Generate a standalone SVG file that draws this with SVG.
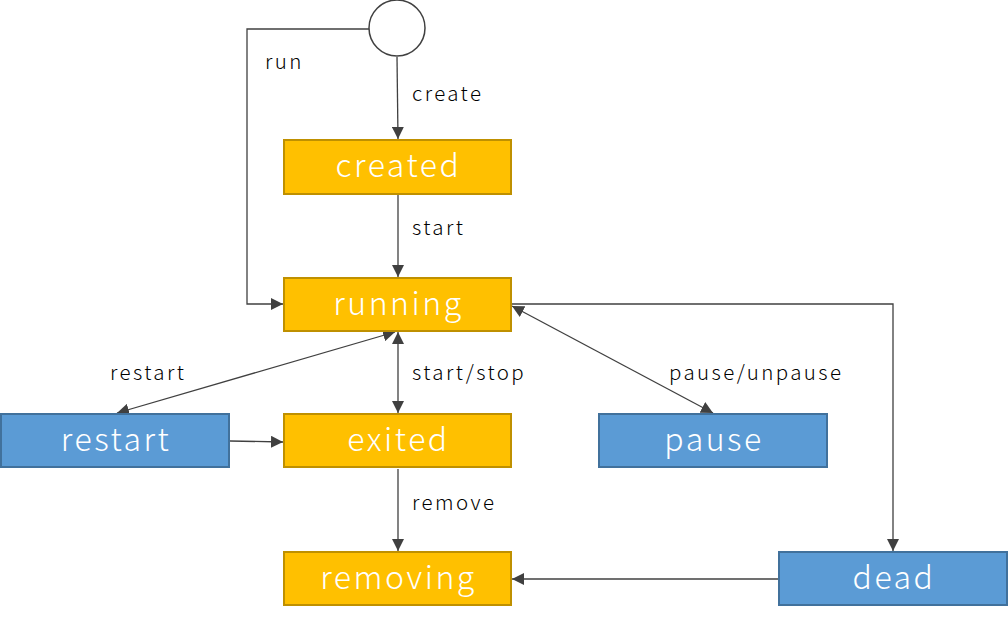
<svg xmlns="http://www.w3.org/2000/svg" width="1008" height="624" viewBox="0 0 1008 624">
<defs>
<style>
.y{fill:#FFC000;stroke:#BF9000;stroke-width:2}
.b{fill:#5B9BD5;stroke:#41719C;stroke-width:2}
.nt{font-family:"Noto Sans CJK JP","Noto Sans",sans-serif;font-size:32px;font-weight:300;letter-spacing:2.5px;fill:#fff;text-anchor:middle}
.lt{font-family:"Noto Sans CJK JP","Noto Sans",sans-serif;font-size:20.5px;font-weight:300;letter-spacing:2.4px;fill:#000}
.c{fill:none;stroke:#404040;stroke-width:1.3}
</style>
<marker id="ah" viewBox="0 0 10 10" refX="10" refY="5" markerWidth="12" markerHeight="12" markerUnits="userSpaceOnUse" orient="auto-start-reverse">
<path d="M0,0 L10,5 L0,10 Z" fill="#404040"/>
</marker>
</defs>
<g id="connectors">
<path class="c" d="M369,29 H247 V304 H283" marker-end="url(#ah)"/>
<path class="c" d="M397,57 L398,139" marker-end="url(#ah)"/>
<path class="c" d="M398,195 V277" marker-end="url(#ah)"/>
<path class="c" d="M398,332 V413" marker-start="url(#ah)" marker-end="url(#ah)"/>
<path class="c" d="M395,332 L117,413" marker-start="url(#ah)" marker-end="url(#ah)"/>
<path class="c" d="M230,441 L283,442" marker-end="url(#ah)"/>
<path class="c" d="M512,306 L713,413" marker-start="url(#ah)" marker-end="url(#ah)"/>
<path class="c" d="M512,304 H893 V551" marker-end="url(#ah)"/>
<path class="c" d="M779,579 H512" marker-end="url(#ah)"/>
<path class="c" d="M398,469 V551" marker-end="url(#ah)"/>
<text class="lt" x="265" y="69">run</text>
<text class="lt" x="412" y="101">create</text>
<text class="lt" x="412" y="235">start</text>
<text class="lt" x="110" y="380">restart</text>
<text class="lt" x="412" y="380">start/stop</text>
<text class="lt" x="669" y="380">pause/unpause</text>
<text class="lt" x="412" y="510">remove</text>
</g>
<g id="start">
<circle cx="397" cy="28" r="28" fill="#fff" stroke="#404040" stroke-width="1.5"/>
</g>
<g id="created">
<rect class="y" x="284" y="140" width="227" height="54"/>
<text class="nt" x="398.5" y="177">created</text>
</g>
<g id="running">
<rect class="y" x="284" y="278" width="227" height="53"/>
<text class="nt" x="398.5" y="315">running</text>
</g>
<g id="exited">
<rect class="y" x="284" y="414" width="227" height="53"/>
<text class="nt" x="398.5" y="451">exited</text>
</g>
<g id="removing">
<rect class="y" x="284" y="552" width="227" height="53"/>
<text class="nt" x="398.5" y="589">removing</text>
</g>
<g id="restart">
<rect class="b" x="1" y="414" width="228" height="53"/>
<text class="nt" x="116" y="451">restart</text>
</g>
<g id="pause">
<rect class="b" x="599" y="414" width="228" height="53"/>
<text class="nt" x="714" y="451">pause</text>
</g>
<g id="dead">
<rect class="b" x="779" y="552" width="228" height="53"/>
<text class="nt" x="894" y="589">dead</text>
</g>
</svg>
